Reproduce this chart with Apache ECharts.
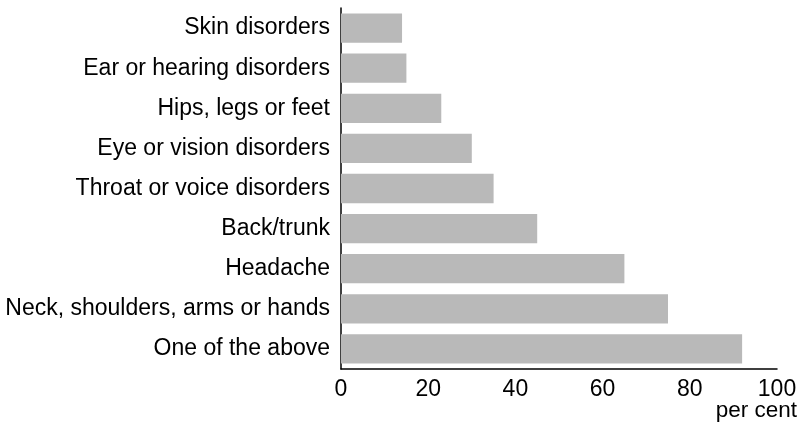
<!DOCTYPE html>
<html><head><meta charset="utf-8">
<script src="https://cdn.jsdelivr.net/npm/echarts@6/dist/echarts.min.js"></script>
<style>html,body{margin:0;padding:0;background:#fff}#c{width:800px;height:426px}</style>
</head><body><div id="c"></div>
<script>
var categories = ["One of the above","Neck, shoulders, arms or hands","Headache","Back/trunk","Throat or voice disorders","Eye or vision disorders","Hips, legs or feet","Ear or hearing disorders","Skin disorders"];
var values = [92, 75, 65, 45, 35, 30, 23, 15, 14];
var xTicks = [0, 20, 40, 60, 80, 100];
var unitLabel = 'per cent';
var chart = echarts.init(document.getElementById('c'));
chart.setOption({
  animation: false,
  title: {text: unitLabel, right: 3, top: 399, padding: 0,
    textStyle: {fontFamily: 'Liberation Sans', fontSize: 22.5, fontWeight: 'normal', color: '#000'}},
  grid: {left: 341, right: 23, top: 8, bottom: 57, containLabel: false, outerBoundsMode: 'none'},
  xAxis: {
    type: 'value', min: xTicks[0], max: xTicks[xTicks.length-1], interval: 20,
    axisLine: {show: true, lineStyle: {color: '#000', width: 1.5}},
    axisTick: {show: false},
    splitLine: {show: false},
    axisLabel: {fontFamily: 'Liberation Sans', fontSize: 23, color: '#000', margin: 9}
  },
  yAxis: {
    type: 'category', data: categories,
    axisLine: {show: true, lineStyle: {color: '#000', width: 1.5}},
    axisTick: {show: false},
    axisLabel: {fontFamily: 'Liberation Sans', fontSize: 23, color: '#000', margin: 11}
  },
  series: [{
    type: 'bar', data: values, barCategoryGap: '27%',
    itemStyle: {color: '#b9b9b9'}
  }]
});
</script></body></html>
